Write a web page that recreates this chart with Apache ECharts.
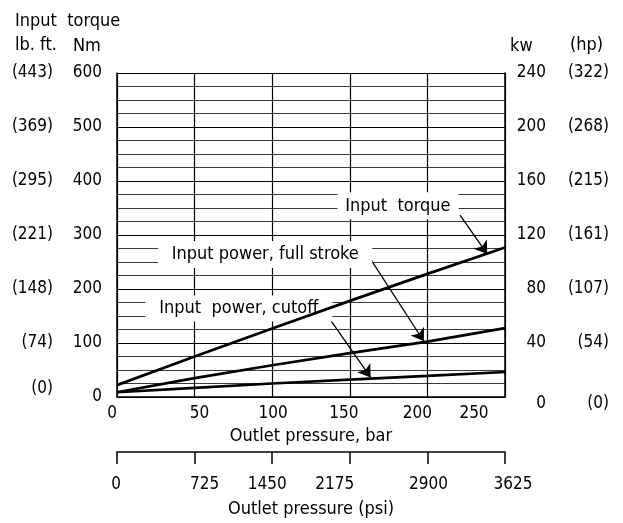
<!DOCTYPE html>
<html>
<head>
<meta charset="utf-8">
<script src="https://cdn.jsdelivr.net/npm/echarts@6/dist/echarts.min.js"></script>
<style>
html,body{margin:0;padding:0;background:#fff;}
#chart{width:623px;height:523px;}
</style>
</head>
<body>
<div id="chart"></div>
<script>
// ---- data ----
const pressureBar = [0, 50, 100, 150, 200, 250];
const inputTorqueNm = [22, 75, 127, 178, 228, 277];
const powerFullStrokeKw = [3.5, 14, 23.5, 32.5, 41, 51];
const powerCutoffKw = [3.5, 6.8, 10, 12.8, 15.6, 18.5];
const lbftLabels = ['(0)', '(74)', '(148)', '(221)', '(295)', '(369)', '(443)'];
const hpLabels = ['(0)', '(54)', '(107)', '(161)', '(215)', '(268)', '(322)'];
const psiMax = 3625, psiStep = 725;
const barMax = 250, barStep = 50;
const nmMax = 600, nmStep = 100;
const kwMax = 240, kwStep = 40;

// ---- layout (label nudges in px, as placed in the original drawing) ----
const barLabelShift = [-5, 5, 1, -6, -10, -31];
const psiLabelShift = [-1, 10, -5, -15, 1, 8];

const FONT = "'Liberation Sans Narrow', 'DejaVu Sans Condensed', 'Liberation Sans', sans-serif";
const NUM = {fontFamily: FONT, fontSize: 17, color: '#000'};
const TXT = {fontFamily: FONT, fontSize: 18, color: '#000'};

function pairs(xs, ys){ return xs.map((x,i)=>[x, ys[i]]); }

// horizontal nudges via rich-text padding (centred labels)
function shiftRich(shifts){
  const r = {};
  shifts.forEach((s,i)=>{
    r['s'+i] = Object.assign({padding:[0, s<0 ? -2*s : 0, 0, s>0 ? 2*s : 0]}, NUM);
  });
  return r;
}

const chart = echarts.init(document.getElementById('chart'), null, {renderer:'canvas'});

const lineStyle = {color:'#000', width:2.7};
const arrowLine = {color:'#000', width:1.3, type:'solid'};
const T = (o)=>Object.assign({fontWeight:'normal'}, TXT, o||{});

chart.setOption({
  animation:false,
  backgroundColor:'#fff',
  title:[
    {text:'Input  torque', left:10, top:7, textStyle:T()},
    {text:'lb. ft.', left:10, top:31, textStyle:T()},
    {text:'Nm', left:68, top:32, textStyle:T()},
    {text:'kw', left:505, top:32, textStyle:T()},
    {text:'(hp)', left:565, top:31, textStyle:T()}
  ],
  grid:{left:117, right:118, top:73, bottom:125, containLabel:false},
  xAxis:[
    {
      type:'value', position:'bottom', min:0, max:barMax, interval:barStep,
      name:'Outlet pressure, bar', nameLocation:'middle', nameGap:29,
      nameTextStyle:TXT,
      axisLine:{show:true, onZero:false, lineStyle:{color:'#000', width:1.5}},
      axisTick:{show:false},
      axisLabel:Object.assign({margin:8,
        formatter:(v)=>'{s'+Math.round(v/barStep)+'|'+v+'}',
        rich:shiftRich(barLabelShift)}, NUM),
      splitLine:{show:true, lineStyle:{color:'#000', width:1.2}}
    },
    {
      type:'value', position:'bottom', offset:55, min:0, max:psiMax, interval:psiStep,
      name:'Outlet pressure (psi)', nameLocation:'middle', nameGap:48,
      nameTextStyle:TXT,
      axisLine:{show:true, onZero:false, lineStyle:{color:'#000', width:1.5}},
      axisTick:{show:true, inside:false, length:12, lineStyle:{color:'#000', width:1.5}},
      axisLabel:Object.assign({margin:24,
        formatter:(v)=>'{s'+Math.round(v/psiStep)+'|'+String(v)+'}',
        rich:shiftRich(psiLabelShift)}, NUM),
      splitLine:{show:false}
    }
  ],
  yAxis:[
    {
      type:'value', position:'left', min:0, max:nmMax, interval:nmStep,
      axisLine:{show:true, onZero:false, lineStyle:{color:'#000', width:1.5}},
      axisTick:{show:false},
      axisLabel:Object.assign({margin:15}, NUM),
      splitLine:{show:true, lineStyle:{color:'#000', width:1.2}},
      minorTick:{show:false, splitNumber:4},
      minorSplitLine:{show:true, lineStyle:{color:'#3a3a3a', width:1}}
    },
    {
      type:'value', position:'left', min:0, max:nmMax, interval:nmStep,
      axisLine:{show:false}, axisTick:{show:false},
      axisLabel:Object.assign({margin:64,
        formatter:(v)=> v===0 ? '{z|'+lbftLabels[0]+'}' : lbftLabels[Math.round(v/nmStep)],
        rich:{z:Object.assign({padding:[0,0,16,0]}, NUM)}}, NUM),
      splitLine:{show:false}
    },
    {
      type:'value', position:'right', min:0, max:kwMax, interval:kwStep,
      axisLine:{show:true, onZero:false, lineStyle:{color:'#000', width:1.5}},
      axisTick:{show:false},
      axisLabel:Object.assign({margin:41, align:'right',
        formatter:(v)=> v===0 ? '{z|0}' : String(v),
        rich:{z:Object.assign({padding:[14,0,0,0]}, NUM)}}, NUM),
      splitLine:{show:false}
    },
    {
      type:'value', position:'right', min:0, max:kwMax, interval:kwStep,
      axisLine:{show:false}, axisTick:{show:false},
      axisLabel:Object.assign({margin:104, align:'right',
        formatter:(v)=> v===0 ? '{z|'+hpLabels[0]+'}' : hpLabels[Math.round(v/kwStep)],
        rich:{z:Object.assign({padding:[14,0,0,0]}, NUM)}}, NUM),
      splitLine:{show:false}
    }
  ],
  series:[
    {
      name:'Input torque', type:'line', xAxisIndex:0, yAxisIndex:0,
      data:pairs(pressureBar, inputTorqueNm), showSymbol:false, symbol:'none',
      lineStyle:lineStyle, itemStyle:{color:'#000'}, z:5,
      markPoint:{
        symbol:'rect', symbolSize:[121,27], silent:true,
        itemStyle:{color:'#fff'},
        label:Object.assign({show:true, position:'inside', formatter:'Input  torque'}, TXT),
        data:[{coord:[181, 354]}]
      },
      markLine:{
        silent:true, symbol:['none','arrow'], symbolSize:12,
        lineStyle:arrowLine, itemStyle:{color:'#000'},
        label:{show:false},
        data:[[{coord:[221, 337]}, {coord:[238.5, 265]}]]
      }
    },
    {
      name:'Input power, full stroke', type:'line', xAxisIndex:0, yAxisIndex:2,
      data:pairs(pressureBar, powerFullStrokeKw), showSymbol:false, symbol:'none',
      lineStyle:lineStyle, itemStyle:{color:'#000'}, z:5,
      markPoint:{
        symbol:'rect', symbolSize:[214,27], silent:true,
        itemStyle:{color:'#fff'},
        label:Object.assign({show:true, position:'inside', formatter:'Input power, full stroke'}, TXT),
        data:[{coord:[95.5, 105.5]}]
      },
      markLine:{
        silent:true, symbol:['none','arrow'], symbolSize:12,
        lineStyle:arrowLine, itemStyle:{color:'#000'},
        label:{show:false},
        data:[[{coord:[161.5, 105.5]}, {coord:[197.7, 41.3]}]]
      }
    },
    {
      name:'Input power, cutoff', type:'line', xAxisIndex:0, yAxisIndex:2,
      data:pairs(pressureBar, powerCutoffKw), showSymbol:false, symbol:'none',
      lineStyle:lineStyle, itemStyle:{color:'#000'}, z:5,
      markPoint:{
        symbol:'rect', symbolSize:[187,26], silent:true,
        itemStyle:{color:'#fff'},
        label:Object.assign({show:true, position:'inside', formatter:'Input  power, cutoff'}, TXT),
        data:[{coord:[78.5, 65.6]}]
      },
      markLine:{
        silent:true, symbol:['none','arrow'], symbolSize:12,
        lineStyle:arrowLine, itemStyle:{color:'#000'},
        label:{show:false},
        data:[[{coord:[135, 61.2]}, {coord:[163.4, 14.5]}]]
      }
    }
  ]
});
</script>
</body>
</html>
